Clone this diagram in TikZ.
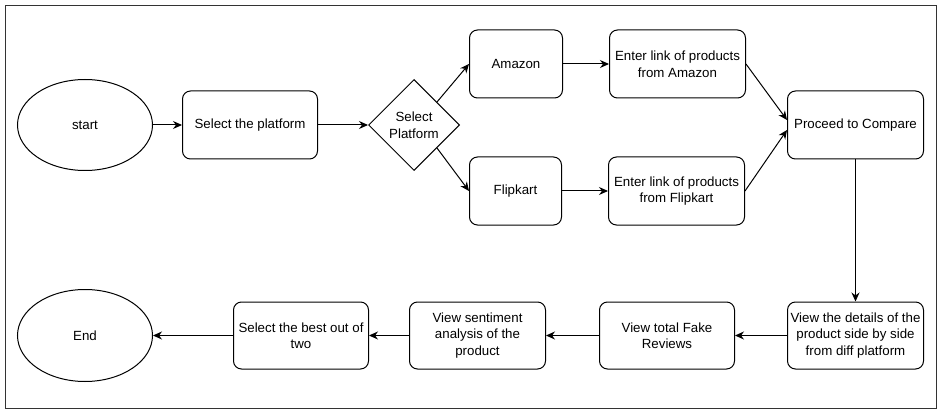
\documentclass[tikz,border=0pt]{standalone}
\usepackage{fontspec}
\setmainfont{Liberation Sans}
\usetikzlibrary{positioning}
\usetikzlibrary{shapes.geometric}
\usetikzlibrary{arrows.meta}

\tikzset{
  box/.style={draw, line width=1pt, rounded corners=8pt, align=center,
    minimum width=135pt, minimum height=67pt, inner sep=1pt,
    font=\fontsize{13.3}{16.5}\selectfont},
  term/.style={draw, line width=1pt, ellipse, minimum width=135pt,
    minimum height=91pt, font=\fontsize{13.3}{16.5}\selectfont},
  decision/.style={draw, line width=1pt, diamond, align=center,
    minimum width=91pt, minimum height=91pt, inner sep=0pt,
    font=\fontsize{13.3}{16.5}\selectfont},
  arr/.style={draw, line width=1pt, -{Stealth[length=9pt,width=8pt]}}
}

\begin{document}
\begin{tikzpicture}

  % Frame
  \useasboundingbox (0pt,0pt) rectangle (943pt,-417pt);
  \draw[line width=1pt, black!80] (5pt,-6pt) rectangle (936pt,-408pt);

  % Define nodes
  \node[term] (start) at (85pt,-125pt) {start};
  \node[box, right=29pt of start, minimum height=68pt] (platform) {Select the platform};
  \node[decision, right=50pt of platform] (select) {Select\\Platform};
  \node[box, right=9pt of select, yshift=61pt, minimum width=93pt, minimum height=68pt] (amazon) {Amazon};
  \node[box, right=9pt of select, yshift=-66pt, minimum width=92pt, minimum height=68pt] (flipkart) {Flipkart};
  \node[box, right=46pt of amazon, minimum width=136pt, minimum height=68pt] (linkA) {Enter link of products\\from Amazon};
  \node[box, right=46pt of flipkart, minimum width=136pt, minimum height=68pt] (linkF) {Enter link of products\\from Flipkart};
  \node[box, right=327pt of select, minimum width=136pt, minimum height=68pt] (compare) {Proceed to Compare};
  \node[box, below=142pt of compare, minimum width=136pt] (details) {View the details of the\\product side by side\\from diff platform};
  \node[box, left=52pt of details] (fake) {View total Fake\\Reviews};
  \node[box, left=53pt of fake, minimum width=136pt] (senti) {View sentiment\\analysis of the\\product};
  \node[box, left=40pt of senti] (best) {Select the best out of\\two};
  \node[term, left=80pt of best, minimum height=92pt] (end) {End};

  % Connect nodes
  \draw[arr] (start) -- (platform);
  \draw[arr] (platform) -- (select);
  \draw[arr] (select.north east) -- (amazon.west);
  \draw[arr] (select.south east) -- (flipkart.west);
  \draw[arr] (amazon) -- (linkA);
  \draw[arr] (flipkart) -- (linkF);
  \draw[arr] (linkA.east) -- ([yshift=5pt]compare.west);
  \draw[arr] (linkF.east) -- ([yshift=-5pt]compare.west);
  \draw[arr] (compare) -- (details);
  \draw[arr] (details) -- (fake);
  \draw[arr] (fake) -- (senti);
  \draw[arr] (senti) -- (best);
  \draw[arr] (best) -- (end);

\end{tikzpicture}
\end{document}
